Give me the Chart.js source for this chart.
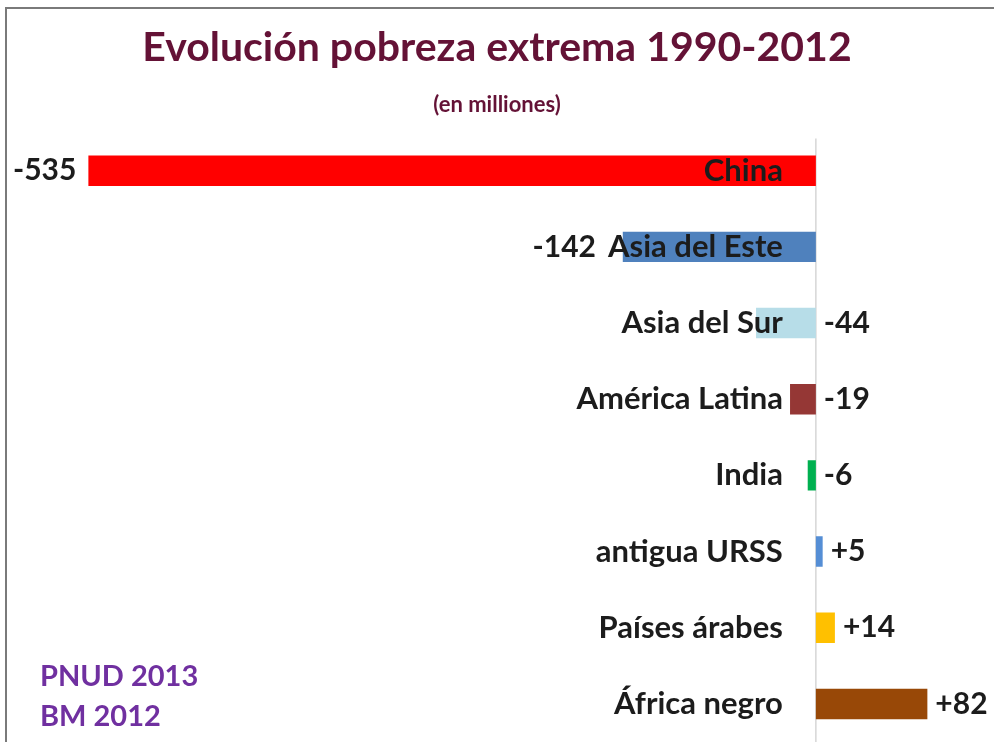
<!DOCTYPE html>
<html>
<head>
<meta charset="utf-8">
<script src="https://cdn.jsdelivr.net/npm/chart.js@4.4.1/dist/chart.umd.min.js"></script>
<style>
  body { margin: 0; background: #fff; }
  canvas { display: block; }
</style>
</head>
<body>
<canvas id="myChart" width="994" height="742"></canvas>
<script>
// regiones y variación de la pobreza extrema (millones de personas)
const regiones = ['China', 'Asia del Este', 'Asia del Sur', 'América Latina', 'India', 'antigua URSS', 'Países árabes', 'África negro'];
const variacion = [-535, -142, -44, -19, -6, 5, 14, 82];
const colores = ['#ff0000', '#4f81bd', '#b7dde8', '#953735', '#00b050', '#558ed5', '#ffc000', '#984807'];
const fuentes = ['PNUD 2013', 'BM 2012'];

const FONT = 'Lato, "Open Sans", sans-serif';

const etiquetas = {
  id: 'etiquetas',
  beforeDraw(chart) {
    const ctx = chart.ctx;
    ctx.save();
    ctx.fillStyle = '#fff';
    ctx.fillRect(0, 0, chart.width, chart.height);
    // marco gris arriba y a la izquierda
    ctx.strokeStyle = '#7a7a7a';
    ctx.lineWidth = 2;
    ctx.beginPath();
    ctx.moveTo(6, chart.height);
    ctx.lineTo(6, 8);
    ctx.lineTo(chart.width, 8);
    ctx.stroke();
    ctx.restore();
  },
  beforeDatasetsDraw(chart) {
    const { ctx, chartArea, scales: { x } } = chart;
    const cero = x.getPixelForValue(0);
    ctx.save();
    ctx.strokeStyle = '#d6d6d6';
    ctx.lineWidth = 1.5;
    ctx.beginPath();
    ctx.moveTo(cero, chartArea.top + 6);
    ctx.lineTo(cero, chartArea.bottom);
    ctx.stroke();
    ctx.restore();
  },
  afterDatasetsDraw(chart) {
    const { ctx, scales: { x } } = chart;
    const cero = x.getPixelForValue(0);
    const meta = chart.getDatasetMeta(0);
    ctx.save();
    ctx.fillStyle = '#1c1c1c';
    ctx.textBaseline = 'middle';
    meta.data.forEach((bar, i) => {
      const v = variacion[i];
      const finBarra = x.getPixelForValue(v);
      const xNombre = cero - 33;
      ctx.font = 'bold 31px ' + FONT;
      ctx.textAlign = 'right';
      ctx.fillText(regiones[i], xNombre, bar.y);
      const inicioNombre = xNombre - ctx.measureText(regiones[i]).width;
      const texto = v > 0 ? '+' + v : String(v);
      ctx.font = 'bold 30px ' + FONT;
      if (v < -100) {
        ctx.textAlign = 'right';
        ctx.fillText(texto, Math.min(finBarra, inicioNombre) - 12, bar.y);
      } else {
        ctx.textAlign = 'left';
        ctx.fillText(texto, Math.max(finBarra, cero) + 8, bar.y);
      }
    });
    // fuentes abajo a la izquierda
    ctx.font = 'bold 29px ' + FONT;
    ctx.fillStyle = '#7030a0';
    ctx.textAlign = 'left';
    fuentes.forEach((f, i) => ctx.fillText(f, 40, 677 + i * 40));
    ctx.restore();
  }
};

const ctx = document.getElementById('myChart').getContext('2d');
new Chart(ctx, {
  type: 'bar',
  data: {
    labels: regiones,
    datasets: [{
      data: variacion,
      backgroundColor: colores,
      borderWidth: 0,
      categoryPercentage: 1,
      barPercentage: 0.4
    }]
  },
  options: {
    indexAxis: 'y',
    responsive: false,
    devicePixelRatio: 1,
    animation: false,
    layout: { padding: 0 },
    scales: {
      x: { display: false, min: -600, max: 131 },
      y: { display: false }
    },
    plugins: {
      legend: { display: false },
      tooltip: { enabled: false },
      title: {
        display: true,
        text: 'Evolución pobreza extrema 1990-2012',
        color: '#641236',
        font: { family: FONT, size: 41, weight: 'bold' },
        padding: { top: 23, bottom: 20 }
      },
      subtitle: {
        display: true,
        text: '(en milliones)',
        color: '#641236',
        font: { family: FONT, size: 22, weight: 'bold' },
        padding: { top: 0, bottom: 14 }
      }
    }
  },
  plugins: [etiquetas]
});
</script>
</body>
</html>
